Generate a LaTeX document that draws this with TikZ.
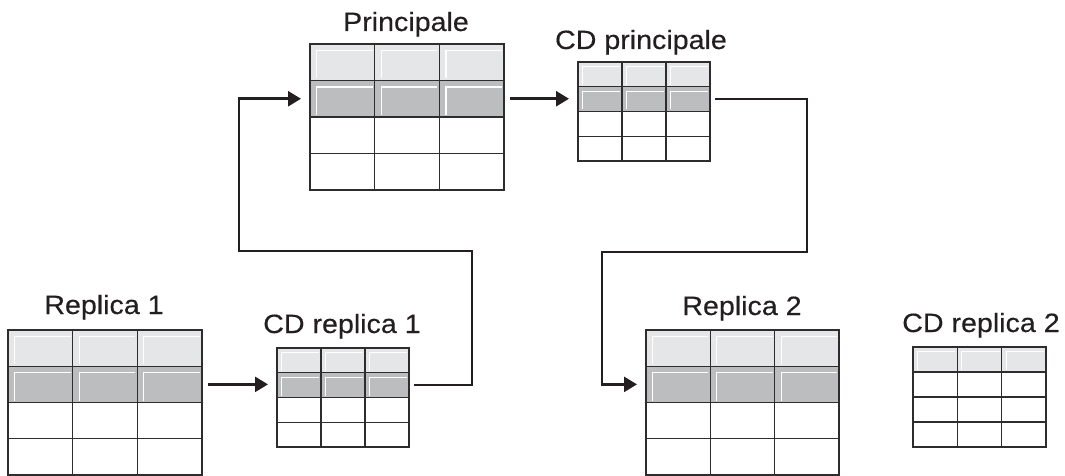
\documentclass[tikz,border=0pt]{standalone}
\usepackage{fontspec}
\usetikzlibrary{arrows.meta,calc}
\newfontfamily\labelfont[FakeStretch=1.08,FakeBold=0.3]{Liberation Sans}
\definecolor{ink}{HTML}{231F20}
\definecolor{rowlight}{HTML}{E5E6E7}
\definecolor{rowdark}{HTML}{BCBDBF}
\definecolor{gridline}{HTML}{2E2C2D}
\tikzset{
  tablebox/.style={inner sep=0pt, outer sep=0pt, draw=none, rectangle},
  gridrule/.style={draw=gridline, line width=1.35pt},
  hilite/.style={draw=white, line width=1.2pt},
  flow/.style={draw=ink, line width=2.6pt, -{Triangle[length=13pt,width=15pt]}},
  title/.style={anchor=base, inner sep=0pt, text=ink, font=\labelfont\fontsize{26.5}{31}\selectfont}
}
% \dbtable{name}{x0}{y0}{x1}{y1}{number of shaded rows}
\newcommand\dbtable[6]{%
  \pgfmathsetmacro\tw{(#4-#2)/3}%
  \pgfmathsetmacro\th{(#5-#3)/4}%
  \pgfmathsetmacro\ins{0.18*\th}%
  \node[tablebox, minimum width={(#4-#2)*1pt}, minimum height={(#5-#3)*1pt}]
    (#1) at ({(#2+#4)/2},{(#3+#5)/2}) {};
  \coordinate (#1-row) at ({(#2+#4)/2},{#3+1.5*\th});
  \fill[rowlight] (#2,#3) rectangle (#4,{#3+\th});
  \ifnum#6>1 \fill[rowdark] (#2,{#3+\th}) rectangle (#4,{#3+2*\th});\fi
  \foreach \r in {1,...,#6}{
    \foreach \c in {0,1,2}{
      \draw[hilite] ({#2+\c*\tw+\ins},{#3+\r*\th-2})
        -- ({#2+\c*\tw+\ins},{#3+(\r-1)*\th+\ins})
        -- ({#2+(\c+1)*\tw-2},{#3+(\r-1)*\th+\ins});
    }
  }
  \foreach \c in {1,2}{\draw[gridrule] ({#2+\c*\tw},#3) -- ({#2+\c*\tw},#5);}
  \foreach \r in {1,2,3}{\draw[gridrule] (#2,{#3+\r*\th}) -- (#4,{#3+\r*\th});}
  \draw[gridrule] (#2,#3) rectangle (#4,#5);
}
\begin{document}
\begin{tikzpicture}[x=1pt,y=-1pt]
\useasboundingbox (0,0) rectangle (1065,476);

% tables
\dbtable{pri}{310}{44}{504}{190}{2}
\dbtable{cdp}{578}{62}{710}{161}{2}
\dbtable{rep1}{8}{330}{202}{475}{2}
\dbtable{cdr1}{277}{348}{409}{447}{2}
\dbtable{rep2}{646}{330}{839}{475}{2}
\dbtable{cdr2}{913}{347}{1046}{447}{1}

% titles
\node[title] (tpri)  at (406,31)  {Principale};
\node[title] (tcdp)  at (641,49)  {CD principale};
\node[title] (trep1) at (104,314) {Replica 1};
\node[title] (tcdr1) at (342,333) {CD replica 1};
\node[title] (trep2) at (742,315) {Replica 2};
\node[title] (tcdr2) at (981,332) {CD replica 2};

% bends of the routed connectors
\coordinate (up1) at (472,251);
\coordinate (up2) at (239,251);
\coordinate (dn1) at (807,252);
\coordinate (dn2) at (602,252);

% connectors
\draw[flow, shorten <=6pt, shorten >=9pt] (rep1.east|-rep1-row) -- (cdr1.west|-rep1-row);
\draw[flow, shorten <=5pt, shorten >=9pt] (cdr1.east|-cdr1-row) -| (up1) -- (up2) |- (pri.west|-pri-row);
\draw[flow, shorten <=6pt, shorten >=9pt] (pri.east|-pri-row) -- (cdp.west|-pri-row);
\draw[flow, shorten <=5pt, shorten >=9pt] (cdp.east|-cdp-row) -| (dn1) -- (dn2) |- (rep2.west|-rep2-row);
\end{tikzpicture}
\end{document}
